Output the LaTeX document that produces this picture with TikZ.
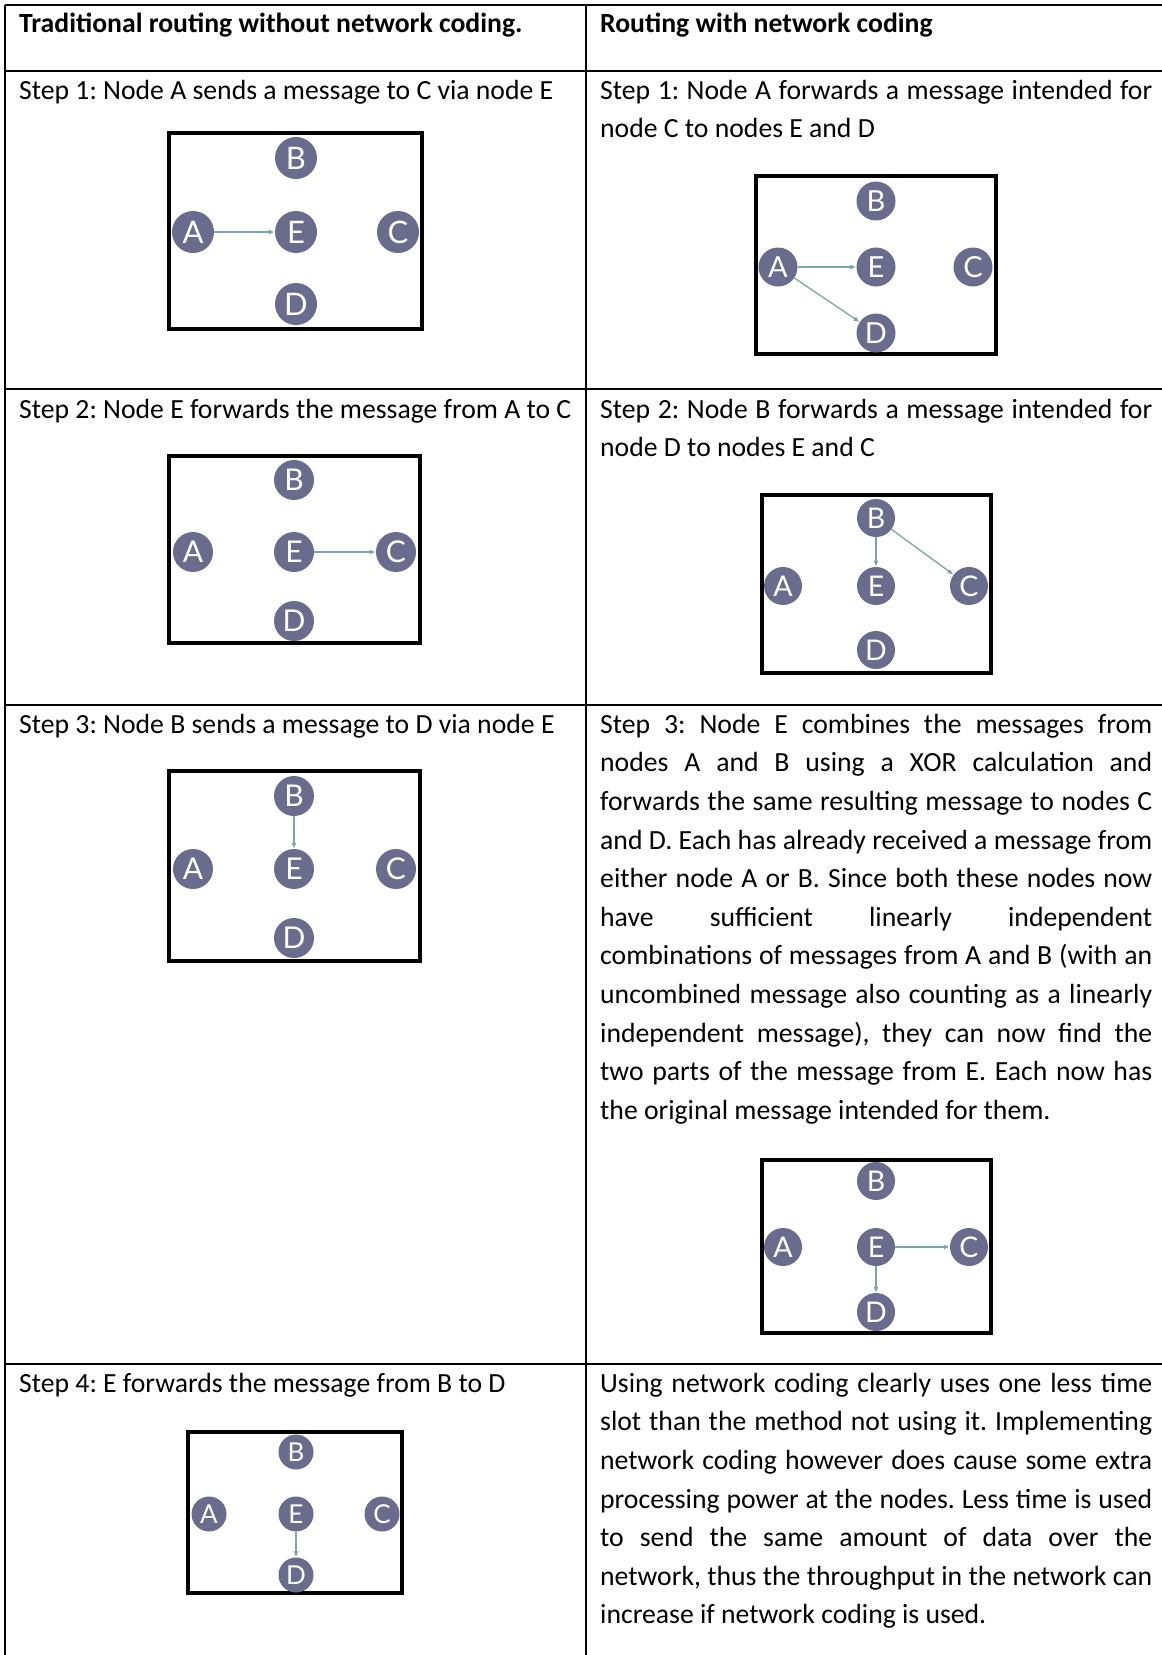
\documentclass[tikz,border=0pt]{standalone}
\usepackage{fontspec}
\setmainfont{Carlito}
\newfontfamily\nodefont{Lato}
\usetikzlibrary{arrows.meta}
\definecolor{nodecol}{RGB}{106,108,142}
\definecolor{arrcol}{RGB}{122,166,163}
\frenchspacing
\begin{document}
\begin{tikzpicture}[x=1pt,y=-1pt,
  tbl/.style={line width=2pt},
  frame/.style={line width=4pt},
  txt/.style={inner sep=0pt, font=\fontsize{27.7}{38.6}\selectfont},
  line/.style={txt, anchor=base west},
  head/.style={line, font=\bfseries\fontsize{27.7}{38.6}\selectfont},
  para/.style={txt, anchor=north west, text width=552pt, align=justify},
  nd/.style 2 args={circle, fill=nodecol, text=white, inner sep=0pt, minimum size=#1, font=\nodefont\fontsize{#2}{#2}\selectfont},
  arr/.style={draw=arrcol, line width=1.3pt, -{Latex[length=6pt,width=5pt]}}
]
\useasboundingbox (0,0) rectangle (1162,1655);
\fill[white] (0,0) rectangle (1162,1655);
% table
\draw[tbl] (5,5) -- (1162,5);
\draw[tbl] (5,71) -- (1162,71);
\draw[tbl] (5,389) -- (1162,389);
\draw[tbl] (5,705) -- (1162,705);
\draw[tbl] (5,1364) -- (1162,1364);
\draw[tbl] (5,5) -- (5,1655);
\draw[tbl] (586,5) -- (586,1655);
% headers
\node[head] (h1) at (19,32) {Traditional routing without network coding.};
\node[head] (h2) at (600,32) {Routing with network coding};
% left texts
\node[line] (l1) at (19,99) {Step 1: Node A sends a message to C via node E};
\node[line] (l2) at (19,418) {Step 2: Node E forwards the message from A to C};
\node[line] (l3) at (19,733) {Step 3: Node B sends a message to D via node E};
\node[line] (l4) at (19,1392) {Step 4: E forwards the message from B to D};
% right texts
\node[para] (r1) at (600,74) {\rule{0pt}{25pt}Step 1: Node A forwards a message intended for\linebreak node C to nodes E and D};
\node[para] (r2) at (600,393) {\rule{0pt}{25pt}Step 2: Node B forwards a message intended for\linebreak node D to nodes E and C};
\node[para] (r3) at (600,708) {\rule{0pt}{25pt}Step 3: Node E combines the messages from\linebreak
nodes A and B using a XOR calculation and\linebreak
forwards the same resulting message to nodes C\linebreak
and D. Each has already received a message from\linebreak
either node A or B. Since both these nodes now\linebreak
have sufficient linearly independent\linebreak
combinations of messages from A and B (with an\linebreak
uncombined message also counting as a linearly\linebreak
independent message), they can now find the\linebreak
two parts of the message from E. Each now has\linebreak
the original message intended for them.};
\node[para] (r4) at (600,1367) {\rule{0pt}{25pt}Using network coding clearly uses one less time\linebreak
slot than the method not using it. Implementing\linebreak
network coding however does cause some extra\linebreak
processing power at the nodes. Less time is used\linebreak
to send the same amount of data over the\linebreak
network, thus the throughput in the network can\linebreak
increase if network coding is used.};
% box 1
\draw[frame] (169,133) rectangle (422,329);
\node[nd={42}{31}] (a1) at (193,232) {A};
\node[nd={42}{31}] (b1) at (296,158) {B};
\node[nd={42}{31}] (e1) at (296,232) {E};
\node[nd={42}{31}] (c1) at (398,232) {C};
\node[nd={42}{31}] (d1) at (296,304) {D};
\draw[arr] (a1) -- (e1);
% box 2
\draw[frame] (756,176) rectangle (996,354);
\node[nd={39}{29}] (a2) at (778,267) {A};
\node[nd={39}{29}] (b2) at (876,201) {B};
\node[nd={39}{29}] (e2) at (876,267) {E};
\node[nd={39}{29}] (c2) at (973,267) {C};
\node[nd={39}{29}] (d2) at (876,333) {D};
\draw[arr] (a2) -- (e2);
\draw[arr] (a2) -- (d2);
% box 3
\draw[frame] (169,456) rectangle (420,643);
\node[nd={40}{30}] (a3) at (193,552) {A};
\node[nd={40}{30}] (b3) at (294,480) {B};
\node[nd={40}{30}] (e3) at (294,552) {E};
\node[nd={40}{30}] (c3) at (396,552) {C};
\node[nd={40}{30}] (d3) at (294,621) {D};
\draw[arr] (e3) -- (c3);
% box 4
\draw[frame] (762,495) rectangle (991,673);
\node[nd={38}{28.5}] (a4) at (783,586) {A};
\node[nd={38}{28.5}] (b4) at (876,518) {B};
\node[nd={38}{28.5}] (e4) at (876,586) {E};
\node[nd={38}{28.5}] (c4) at (969,586) {C};
\node[nd={38}{28.5}] (d4) at (876,650) {D};
\draw[arr] (b4) -- (e4);
\draw[arr] (b4) -- (c4);
% box 5
\draw[frame] (169,771) rectangle (420,961);
\node[nd={40}{30}] (a5) at (193,869) {A};
\node[nd={40}{30}] (b5) at (294,796) {B};
\node[nd={40}{30}] (e5) at (294,869) {E};
\node[nd={40}{30}] (c5) at (396,869) {C};
\node[nd={40}{30}] (d5) at (294,938) {D};
\draw[arr] (b5) -- (e5);
% box 6
\draw[frame] (762,1160) rectangle (991,1333);
\node[nd={38}{28.5}] (a6) at (783,1247) {A};
\node[nd={38}{28.5}] (b6) at (876,1181) {B};
\node[nd={38}{28.5}] (e6) at (876,1247) {E};
\node[nd={38}{28.5}] (c6) at (969,1247) {C};
\node[nd={38}{28.5}] (d6) at (876,1312) {D};
\draw[arr] (e6) -- (c6);
\draw[arr] (e6) -- (d6);
% box 7
\draw[frame] (188,1432) rectangle (402,1593);
\node[nd={35}{26}] (a7) at (209,1514) {A};
\node[nd={35}{26}] (b7) at (296,1452) {B};
\node[nd={35}{26}] (e7) at (296,1514) {E};
\node[nd={35}{26}] (c7) at (382,1514) {C};
\node[nd={35}{26}] (d7) at (296,1575) {D};
\draw[arr] (e7) -- (d7);
\end{tikzpicture}
\end{document}
